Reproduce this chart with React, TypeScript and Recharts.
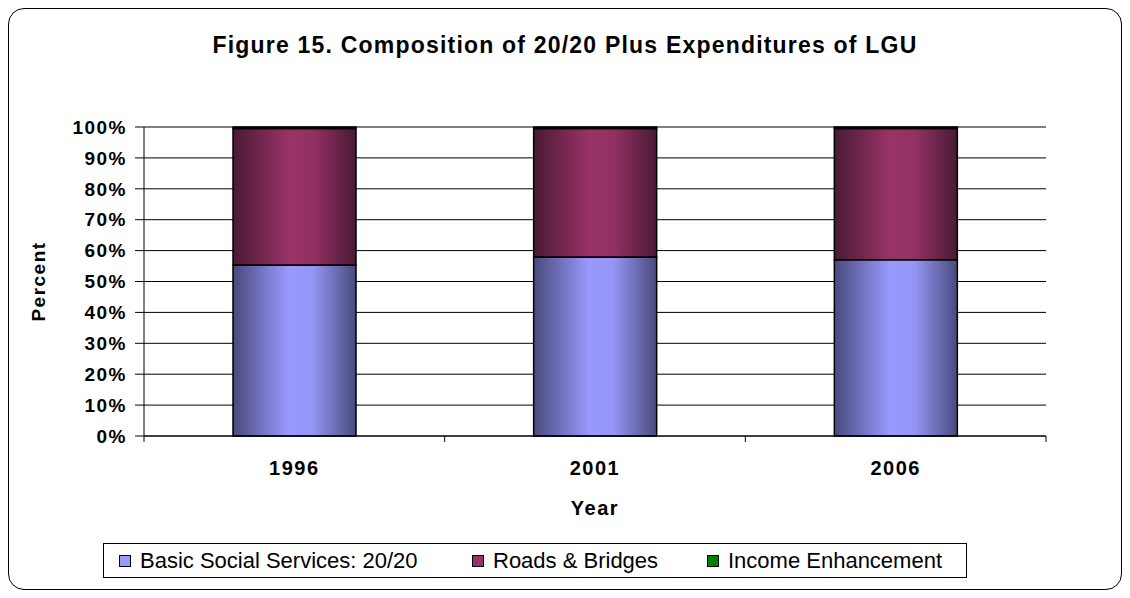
import React from "react";
import { BarChart, Bar, XAxis, YAxis, CartesianGrid, Legend, Label } from "recharts";

const categories = ["1996", "2001", "2006"];
const basicSocial = [55.3, 57.9, 57.0];
const roadsBridges = [44.2, 41.6, 42.5];
const incomeEnh = [0.5, 0.5, 0.5];
const yTicks = [0, 10, 20, 30, 40, 50, 60, 70, 80, 90, 100];

const data = categories.map((c, i) => ({
  year: c,
  basic: basicSocial[i],
  roads: roadsBridges[i],
  income: incomeEnh[i],
}));

const FONT = "'Liberation Sans', Arial, sans-serif";

const legendItems = [
  { label: "Basic Social Services: 20/20", color: "#9999ff", left: 15 },
  { label: "Roads & Bridges", color: "#993366", left: 368 },
  { label: "Income Enhancement", color: "#008000", left: 603 },
];

const LegendBox = () => (
  <div
    style={{
      position: "absolute",
      left: 103,
      top: 543,
      width: 864,
      height: 35,
      border: "1px solid #000",
      boxSizing: "border-box",
      fontFamily: FONT,
      fontSize: 22,
      color: "#000",
      background: "#fff",
    }}
  >
    {legendItems.map((it) => (
      <div
        key={it.label}
        style={{
          position: "absolute",
          left: it.left,
          top: 0,
          height: 33,
          display: "flex",
          alignItems: "center",
          whiteSpace: "nowrap",
        }}
      >
        <span
          style={{
            display: "inline-block",
            width: 10,
            height: 10,
            background: it.color,
            border: "1px solid #000",
            marginRight: 9,
          }}
        />
        {it.label}
      </div>
    ))}
  </div>
);

const tickStyle = { fill: "#000", fontWeight: "bold" as const, fontSize: 19, fontFamily: FONT, letterSpacing: 1.5 };

const X_TICK_SIZE = 6;
const X_TICK_MARGIN = 19;

const XTick = (props: any) => {
  const { x, y, payload, visibleTicksCount } = props;
  const off = payload && typeof payload.offset === "number" && payload.offset > 0 ? payload.offset : 150;
  const axisY = y - X_TICK_SIZE - X_TICK_MARGIN;
  const isLast = payload.index === (visibleTicksCount ?? categories.length) - 1;
  return (
    <g>
      <line x1={x - off} x2={x - off} y1={axisY} y2={axisY + X_TICK_SIZE} stroke="#000" />
      {isLast && <line x1={x + off} x2={x + off} y1={axisY} y2={axisY + X_TICK_SIZE} stroke="#000" />}
      <text
        x={x}
        y={y}
        dy="0.71em"
        textAnchor="middle"
        fill="#000"
        fontWeight="bold"
        fontSize={20}
        fontFamily={FONT}
        letterSpacing={1.5}
      >
        {payload.value}
      </text>
    </g>
  );
};

export default function App() {
  return (
    <div style={{ position: "absolute", left: 0, top: 0, width: 1130, height: 598, background: "#fff", fontFamily: FONT }}>
      <div
        style={{
          position: "absolute",
          left: 8,
          top: 8,
          width: 1114,
          height: 582,
          border: "1px solid #000",
          borderRadius: 16,
          boxSizing: "border-box",
        }}
      />
      <div
        style={{
          position: "absolute",
          left: 0,
          top: 32,
          width: 1130,
          textAlign: "center",
          fontWeight: "bold",
          fontSize: 23,
          letterSpacing: 1.2,
          color: "#000",
        }}
      >
        Figure 15. Composition of 20/20 Plus Expenditures of LGU
      </div>
      <div style={{ position: "absolute", left: 0, top: 0 }}>
        <BarChart
          width={1130}
          height={598}
          data={data}
          margin={{ top: 127, right: 84, left: 84, bottom: 72 }}
          barSize={123}
        >
          <defs>
            <linearGradient id="gBlue" x1="0" y1="0" x2="1" y2="0">
              <stop offset="0%" stopColor="#4a4a7e" />
              <stop offset="45%" stopColor="#9999ff" />
              <stop offset="65%" stopColor="#9595f5" />
              <stop offset="100%" stopColor="#4a4a7e" />
            </linearGradient>
            <linearGradient id="gRed" x1="0" y1="0" x2="1" y2="0">
              <stop offset="0%" stopColor="#4a1a34" />
              <stop offset="45%" stopColor="#993366" />
              <stop offset="65%" stopColor="#933163" />
              <stop offset="100%" stopColor="#4a1a34" />
            </linearGradient>
            <linearGradient id="gGreen" x1="0" y1="0" x2="1" y2="0">
              <stop offset="0%" stopColor="#003e00" />
              <stop offset="45%" stopColor="#008000" />
              <stop offset="100%" stopColor="#003e00" />
            </linearGradient>
          </defs>
          <CartesianGrid vertical={false} stroke="#000" strokeWidth={1} />
          <XAxis
            dataKey="year"
            height={90}
            stroke="#000"
            tickLine={false}
            tickSize={X_TICK_SIZE}
            tick={<XTick />}
            tickMargin={X_TICK_MARGIN}
            interval={0}
          >
            <Label value="Year" position="insideBottom" offset={11} style={{ fill: "#000", fontWeight: "bold", fontSize: 20, fontFamily: FONT, letterSpacing: 1.5 }} />
          </XAxis>
          <YAxis
            width={60}
            domain={[0, 100]}
            ticks={yTicks}
            interval={0}
            stroke="#000"
            tickSize={9}
            tickMargin={8}
            tickFormatter={(v) => `${v}%`}
            tick={tickStyle}
          >
            <Label
              value="Percent"
              angle={-90}
              position="insideLeft"
              offset={-46}
              style={{ textAnchor: "middle", fill: "#000", fontWeight: "bold", fontSize: 19, fontFamily: FONT, letterSpacing: 1.5 }}
            />
          </YAxis>
          <Legend content={() => null} />
          <Bar dataKey="basic" stackId="a" fill="url(#gBlue)" stroke="#000" strokeWidth={1.5} isAnimationActive={false} />
          <Bar dataKey="roads" stackId="a" fill="url(#gRed)" stroke="#000" strokeWidth={1.5} isAnimationActive={false} />
          <Bar dataKey="income" stackId="a" fill="url(#gGreen)" stroke="#000" strokeWidth={1.5} isAnimationActive={false} />
        </BarChart>
      </div>
      <LegendBox />
    </div>
  );
}
